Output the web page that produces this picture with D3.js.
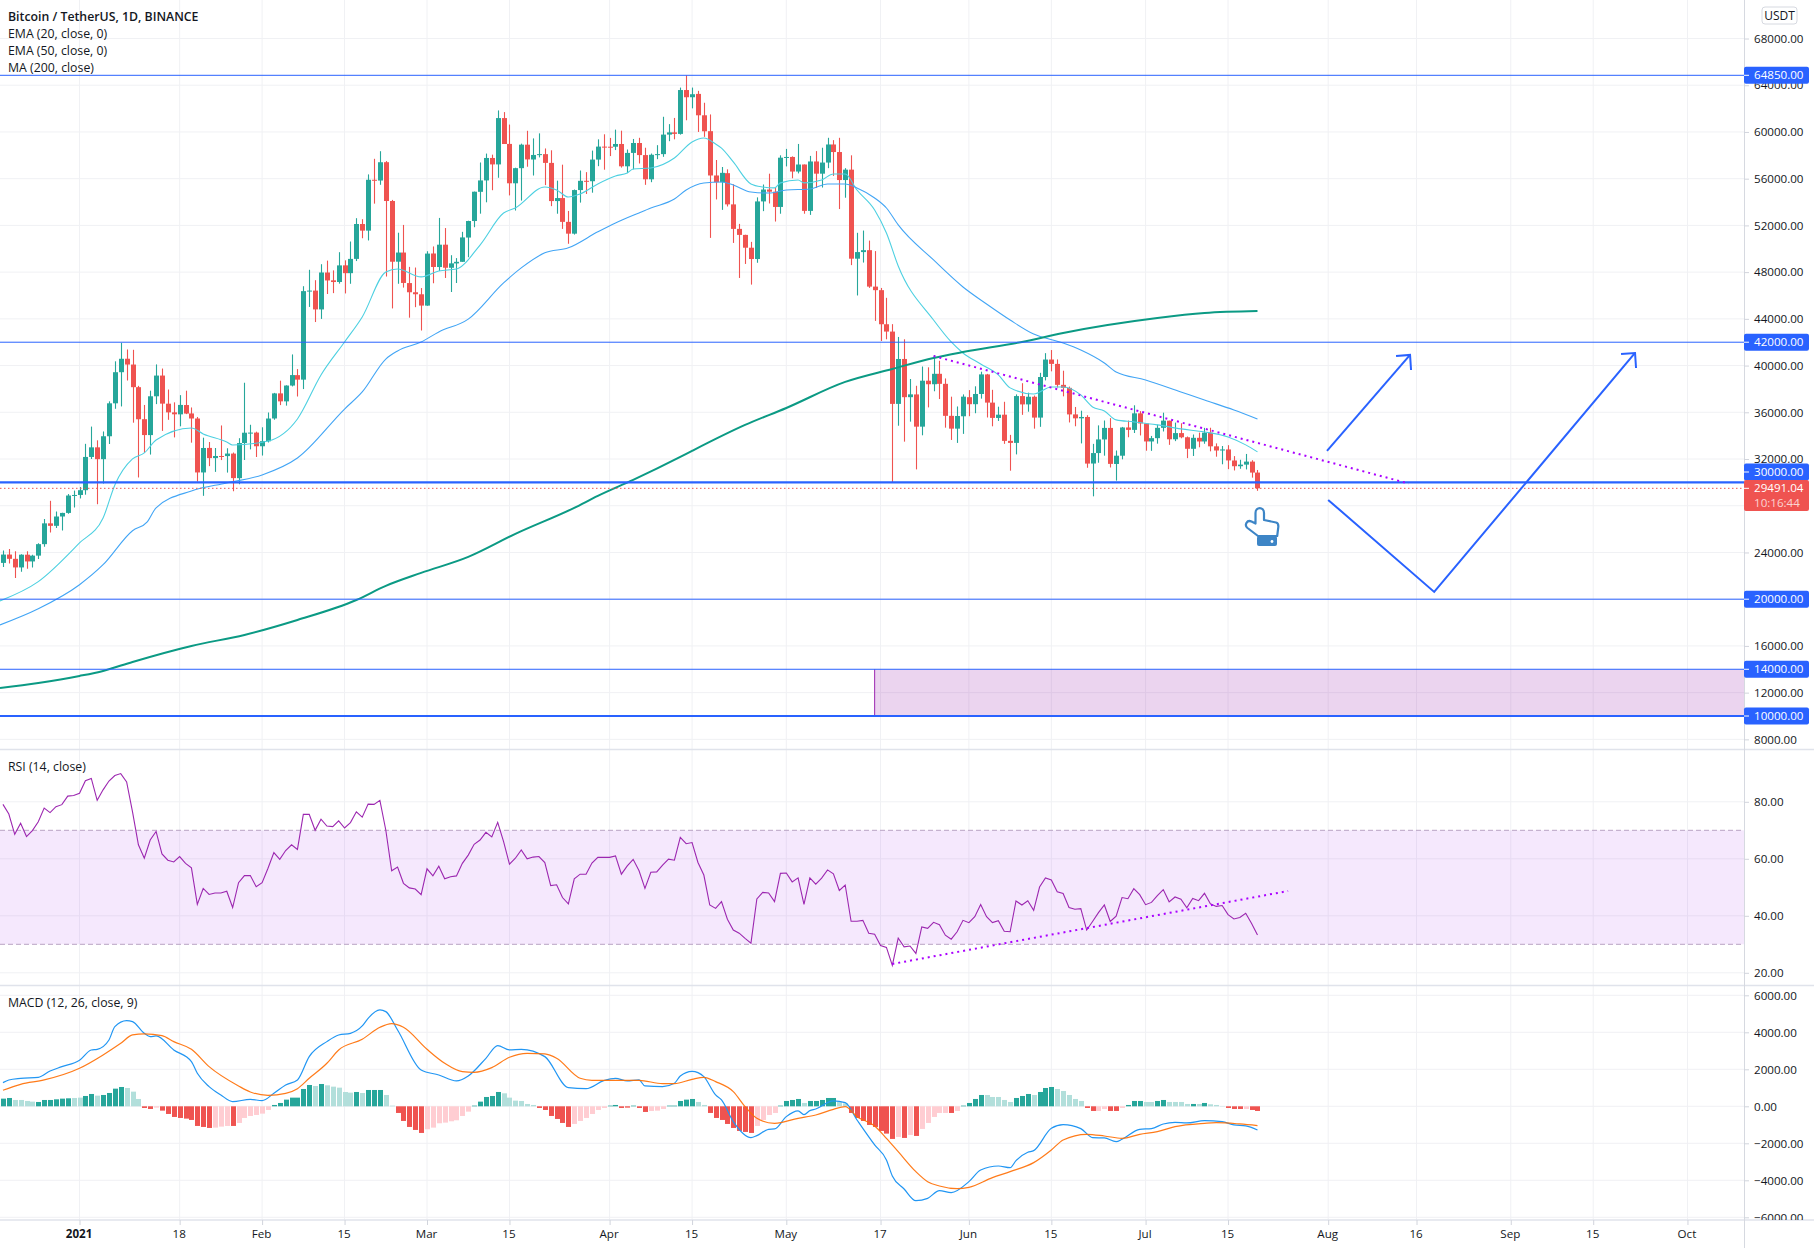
<!DOCTYPE html>
<html>
<head>
<meta charset="utf-8">
<script src="https://cdn.jsdelivr.net/npm/d3@7"></script>
<style>
  html, body { margin: 0; padding: 0; background: #fff; }
  svg { display: block; }
  text { font-family: "Open Sans", sans-serif; font-size: 11.6px; fill: #131722; }
  .axis path { display: none; }
  .axis line { stroke: #d1d4dc; }
</style>
</head>
<body>
<svg width="1814" height="1248"></svg>
<script>
// first candle is 19 Dec 2020, day numbers count from 1 Jan 2021
const firstDay = -13;

const opens = [
  23107,23821,23455,22719,23810,23232,23729,24712,26493,26281,27079,27385,28875,
  28923,29331,32176,33000,31989,33949,36769,39432,40586,40088,38150,35410,34049,37371,39145,36737,35994,35824,36622,35901,35468,30851,32950,32078,32259,32251,32464,30362,33368,34246,34262,
  33092,33517,35472,37620,36936,38289,39181,38795,46374,46420,44807,47968,47298,47156,48580,47911,49133,52118,51552,55906,55841,57412,54088,48892,49677,47063,46276,46103,
  45134,49595,48436,50349,48374,48746,48882,50959,52376,54874,55851,57773,57221,61188,58976,55605,56900,58912,57641,58030,58100,57351,54083,54340,52303,51293,55025,55817,55781,57635,58745,
  58736,58735,58970,57059,58206,59054,58020,55947,58048,58102,59774,59964,59834,63588,62971,63258,61427,60067,56274,55696,56471,53800,51702,51187,50089,49121,54053,55071,54884,53580,
  57798,57859,56610,57214,53241,57473,56428,57380,58928,58280,55883,56773,49150,49716,49880,46760,46456,43538,42910,36720,40566,37294,37531,34771,38705,38402,39295,38437,35697,34600,35658,
  37293,36694,37568,39242,36829,35516,35796,33556,33380,37388,36677,37331,35546,39021,40516,40143,38349,38092,35820,35483,35600,31614,32510,33675,34663,31576,32283,34702,34494,35911,
  35045,33503,33786,34669,35284,33690,34220,33862,32875,33815,33502,34259,33086,32729,32820,31874,31383,31520,31778,30839
];
const highs = [
  24171,24295,24102,23837,24100,23794,24789,26867,28422,27500,27410,29000,29300,
  29600,33300,34778,33600,34360,36939,40365,41950,41380,41350,38264,36628,37850,40100,39747,37950,36852,37469,37850,36415,35600,33826,33456,32944,34875,32921,32557,33783,38531,34933,34342,
  34717,35984,37662,38708,38310,40955,39700,46794,48200,47310,48678,48985,48150,49707,49010,50622,52618,52530,56368,57700,58352,57508,54183,51374,52041,48450,48394,46638,
  49790,50200,52640,51773,49448,49200,51450,52402,54895,57387,58150,58058,61844,61700,60633,56938,58999,60100,59450,59880,58589,58430,55830,57200,53238,55073,56700,56559,58405,59368,59800,
  59490,60200,60110,58500,59400,59500,58650,58153,58869,61300,60670,61200,63800,64854,63800,63520,62500,61500,57600,57000,56800,55521,52130,51200,50591,54400,55500,56428,55200,58000,
  58550,57911,58973,57214,57950,58360,58650,59500,59300,59500,56900,58000,51367,51560,50700,49800,46646,45800,43546,42451,42250,38850,38270,39920,39850,40900,40411,38900,37338,36500,37534,
  37900,38225,39476,39289,37925,36480,36900,34067,37534,38491,37680,37436,39380,41064,41330,40527,39560,38202,36457,36137,35750,33298,34881,35298,35500,32730,34749,35297,36600,36100,
  35057,33977,34945,35967,35284,35118,35059,33929,34100,34262,34666,34678,33340,33114,33185,32249,31935,32435,31899,31063
];
const lows = [
  22750,23060,21815,22353,22600,22703,23433,24500,25700,26101,25880,27320,27850,
  28624,28946,32000,28130,29900,33288,36300,36500,38720,35111,30420,32531,32380,36701,34408,35357,33850,34800,35844,33400,30071,28850,31390,30900,31910,30837,29241,29842,31915,32825,32171,
  32296,33418,35362,36616,36570,38215,37351,37988,45020,43727,43994,46125,46202,47014,46174,47003,48947,50901,50710,53863,55477,47622,44892,47003,46674,44100,45000,43000,
  45115,47047,48100,47500,46300,47070,48882,49274,51845,53005,53977,55012,56078,59020,54568,53271,54123,57023,56270,57820,55450,53650,53000,51700,50427,51214,53950,54691,54800,57071,56769,
  57935,58450,56950,56478,56800,57300,55473,55700,57670,57870,59210,59369,59770,61000,62020,60000,59580,50931,54221,53329,53620,50500,47500,48700,46930,48800,53222,53876,52330,53000,
  57050,56035,56452,53000,52900,55200,55241,56900,56235,53400,54370,48600,46000,48817,46650,43825,42101,42250,30000,34850,33488,35200,31111,34031,36419,37800,37134,34684,33633,33379,34153,
  35666,35920,37170,35555,34800,35258,33300,31000,32396,35782,36050,34600,34757,38730,39506,38116,37365,35129,34803,33336,31251,28805,31683,32286,31275,30151,31973,33862,34226,34017,
  32711,32699,33316,34357,33213,33532,33777,32077,32261,33004,33306,32658,32200,31550,31133,31020,31164,31108,30407,29278
];
const closes = [
  23821,23455,22719,23811,23232,23729,24712,26493,26281,27079,27385,28875,28923,
  29331,32178,33000,31988,33949,36769,39432,40582,40088,38150,35404,34051,37371,39144,36742,35994,35828,36631,35891,35468,30850,32945,32078,32259,32254,32467,30366,33364,34252,34262,33092,
  33526,35466,37618,36936,38290,39186,38795,46374,46420,44807,47969,47287,47153,48577,47911,49133,52119,51552,55906,55841,57408,54088,48891,49676,47073,46276,46106,45135,
  49587,48440,50349,48374,48751,48882,50971,52375,54884,55851,57773,57221,61188,58968,55605,56900,58912,57648,58030,58102,57351,54083,54340,52303,51293,55025,55817,55777,57635,58746,58740,
  58720,58970,57059,58206,59054,58020,55947,58048,58102,59774,59964,59834,63588,62971,63229,61427,60058,56274,55696,56499,53801,51701,51187,50089,49121,54053,55071,54884,53580,57798,
  57859,56610,57213,53241,57473,56428,57380,58928,58280,55883,56773,49150,49716,49880,46760,46456,43538,42910,36720,40565,37294,37536,34770,38705,38402,39295,38436,35697,34600,35684,37340,
  36693,37568,39246,36829,35520,35796,33552,33380,37389,36675,37331,35546,39020,40516,40144,38349,38092,35819,35483,35600,31608,32509,33678,34663,31584,32283,34700,34494,35911,35045,
  33504,33786,34669,35286,33690,34220,33862,32875,33815,33502,34258,33086,32729,32820,31880,31383,31520,31778,30839,29491
];

const ema20 = [[-13.5,19850],[-7,21500],[0,24815],[4,26955],[6,29780],[9,32005],[11,32520],[13,33630],[19,34660],[21,34150],[25,33460],[26,33200],[32,33540],[37,35430],[41,39195],[45,42020],[48,44160],[52,48010],[54,48270],[58,47590],[61,48100],[64,48270],[68,50320],[72,53060],[74,53490],[79,55290],[81,55030],[83,54430],[85,54690],[88,55550],[91,56230],[93,56490],[94,56830],[97,56920],[101,57770],[104,59140],[106,59480],[108,58970],[109,58620],[111,57430],[114,55550],[116,55290],[118,55210],[119,55640],[122,55890],[123,55640],[126,55890],[128,56400],[130,56400],[132,55030],[135,53320],[137,51350],[139,48530],[145,43900],[148,42020],[150,41080],[153,40140],[156,39200],[158,38090],[162,37570],[165,38170],[167,38170],[170,37490],[172,36460],[174,36120],[176,35350],[179,35180],[183,34920],[187,34580],[191,34320],[195,33890],[198,33210],[200,32610]];
const ema50 = [[-13.5,17800],[-7,19180],[0,21240],[4,22950],[9,25860],[11.5,26620],[13,27820],[19,29265],[25,29950],[31,30640],[37,32090],[45,36280],[48,37740],[52,40560],[54,41250],[58,42020],[61,42880],[66,43980],[72,47080],[75,48360],[79,49650],[83,50080],[88,51450],[91,52210],[95,53070],[97,53490],[101,54260],[103,55030],[106,55630],[109,55720],[111,55460],[114,54860],[117,54770],[120,55030],[124,55120],[127,55550],[130,55550],[132,55210],[135,54350],[137,53490],[139,52040],[145,49040],[150,46730],[154,45270],[158,43900],[162,42700],[167,41930],[170,41330],[174,40220],[176,39450],[181,38770],[187,37740],[191,37050],[196,36200],[200,35430]];
const ma200 = [[-13.5,12400],[-7,12830],[0,13430],[4,13860],[9,14630],[19,16000],[28,16940],[37,18220],[47,19930],[52,21140],[58,22250],[66,23620],[74,25590],[84,27820],[88,28840],[94,30210],[102,32180],[104,32700],[113,34920],[120,36370],[130,38600],[138,39710],[145,40650],[150,41160],[160,42020],[167,42790],[183,44070],[191,44500],[200,44670]];

const rsiValues = [
  79.1,75.7,68.6,72.5,67.8,69.9,73,77.8,76.2,78.3,79,82,82.2,
  83,87.4,88.2,80.5,84.2,87.3,89.2,89.9,87,76.5,64.9,60.2,66.6,69.6,61.7,59.5,58.9,60.8,58.4,56.8,44,49.6,47.5,48,48,48.6,42.9,51.6,54.1,54.1,50.2,51.6,
  56.7,62.2,59.8,62.9,64.9,63.3,75.6,75.6,70,73.9,71.5,71.3,73.3,70.8,72.7,76.5,74.6,79.2,79.1,80.5,70.1,55.8,57.1,51.4,49.8,49.4,47.4,56.5,54,57.4,53,53.7,54,58.4,61.3,65.1,66.6,69.3,67.7,72.8,66,58.1,60.2,63.1,60,60.6,60.8,58.7,50.6,50.9,46.4,44.2,53,54.6,54.6,58.5,60.5,60.5,60.5,61,54.6,57.5,59.8,55.8,49.6,55.3,55.4,57.8,
  59.9,59.5,67.5,65.3,65.7,58.7,54.3,43.8,42.6,45,38.8,35,33.9,32.1,30.4,45.9,48.2,48,45,54.9,55,51.9,53.3,44,53.3,51.1,53.2,56.1,54.7,48.9,50.8,
  38.1,38.1,38.4,33.9,33.5,29.6,28.9,22.6,32.2,29.1,29.4,26.8,36.1,35.6,37.7,36.9,33.2,31.8,34.4,38.4,37.6,39.7,44,39.7,37.6,38.3,34.6,34.4,45.2,43.8,45.3,41.9,50.1,53.3,52.6,48.4,47.8,42.9,42.3,42.5,35,38,41.1,43.8,38,39.9,46.4,46,49.5,47.4,
  43.9,44.7,47.1,49.2,44.9,46.6,45.8,42.8,46.1,45.3,47.9,44.2,43.3,43.6,40.4,38.9,39.4,40.9,37.3,33.3
];

const macdLine = [[-13,1280],[-12,1424],[-10,1514],[-7,1568],[-5,1910],[-3,2144],[0,2487],[2,3045],[3,3081],[5,3586],[6,4307],[8,4631],[9,4577],[11,3946],[12,3766],[13,3802],[16,3045],[19,2415],[20,1784],[22,1063],[24,613],[26,252],[29,378],[31,306],[33,703],[35,1153],[37,1424],[39,2685],[42,3496],[44,3856],[46,3946],[48,4343],[49,4757],[51,5208],[52,5118],[54,4127],[58,1964],[61,1694],[64,1370],[66,1640],[69,2595],[71,3280],[73,3045],[75,3081],[79,2685],[83,1009],[86,955],[89,1388],[91,1514],[93,1370],[95,1424],[96,1099],[99,1063],[101,1243],[102,1640],[104,1892],[105,1820],[106,1604],[108,613],[109,342],[111,-829],[114,-1694],[115,-1586],[117,-1243],[118,-1225],[120,-559],[122,-252],[123,-451],[124,-234],[125,-144],[128,288],[130,198],[132,-739],[135,-2090],[137,-2901],[138,-3766],[140,-4469],[142,-5100],[144,-4974],[146,-4559],[148,-4667],[151,-4073],[153,-3442],[156,-3226],[158,-3316],[159,-2937],[161,-2487],[162,-2397],[165,-1189],[167,-991],[170,-1207],[172,-1694],[174,-1712],[176,-1910],[177,-1784],[180,-1243],[182,-1207],[184,-955],[186,-865],[188,-901],[191,-775],[194,-829],[196,-1009],[198,-1063],[200,-1279]];
const signalLine = [[-13,865],[-10,1189],[-6,1424],[0,2054],[4,2775],[7,3406],[9,3856],[11,3910],[14,3820],[16,3496],[19,3081],[22,2144],[27,1099],[29,775],[32,595],[35,703],[37,955],[39,1514],[42,2325],[44,3045],[48,3622],[51,4271],[53,4469],[55,4271],[59,3081],[62,2325],[65,1874],[67,1838],[70,2090],[73,2649],[76,2865],[79,2829],[81,2595],[85,1514],[87,1406],[91,1406],[95,1406],[99,1225],[101,1225],[104,1460],[106,1568],[108,1333],[111,793],[113,-18],[115,-649],[118,-919],[122,-649],[125,-469],[128,-162],[130,-18],[132,-559],[135,-1063],[137,-1730],[139,-2451],[142,-3532],[144,-4073],[146,-4307],[149,-4451],[151,-4379],[155,-3856],[158,-3532],[162,-3045],[165,-2361],[167,-1820],[171,-1514],[174,-1604],[177,-1730],[180,-1514],[183,-1370],[186,-1099],[191,-919],[193,-883],[197,-955],[200,-1045]];
const histValues = [
  414,450,342,342,288,252,234,342,342,378,414,432,450,468,558,666,576,612,720,954,1044,990,792,396,
  -90,-144,-72,-234,-414,-576,-630,-666,-738,-1062,-1116,-1170,-1152,-1098,-1062,-1062,-900,-630,-522,-468,-396,-198,
  72,180,360,468,468,936,1152,1098,1206,1134,1062,1008,774,738,774,720,882,882,882,612,36,
  -360,-792,-1116,-1278,-1440,-1242,-1152,-918,-882,-810,-756,-522,-288,
  36,252,504,558,774,702,468,306,288,126,72,
  -90,-198,-522,-684,-900,-1116,-954,-792,-630,-414,-198,-90,
  36,72,-90,-72,36,-90,-306,-252,-234,-144,36,36,288,360,396,234,72,
  -360,-630,-738,-954,-1170,-1332,-1386,-1440,-1062,-738,-468,-360,
  36,288,342,396,180,288,288,342,450,450,234,162,
  -360,-630,-792,-1008,-1116,-1332,-1476,-1764,-1656,-1710,-1548,-1602,-1224,-900,-576,-360,-360,-360,-252,
  36,180,396,612,612,504,504,342,234,450,558,666,612,774,990,1044,936,828,612,396,288,
  -90,-252,-252,-144,-252,-252,-90,
  72,288,288,234,234,288,342,234,234,234,126,126,126,180,108,72,18,
  -90,-144,-144,-144,-198,-252
];
// days whose histogram bar is drawn in the faded tone
const histFadedDays = [-11,-10,-9,-8,-1,0,3,8,9,10,13,23,24,25,27,28,29,30,31,32,40,42,43,44,45,46,48,52,53,59,60,61,62,63,64,65,66,72,73,74,75,76,77,84,85,86,87,88,89,97,98,99,105,106,115,116,117,118,123,129,130,139,141,143,144,145,146,147,149,154,155,156,157,158,162,166,167,168,169,170,173,174,177,181,182,185,186,187,188,190,192,193,194,198];

const priceTicks = d3.range(8000, 68001, 4000);
const rsiTicks = [20, 40, 60, 80];
const macdTicks = [-6000, -4000, -2000, 0, 2000, 4000, 6000];
const timeTickDays = [0, 17, 31, 45, 59, 73, 90, 104, 120, 136, 151, 165, 181, 195, 212, 227, 243, 257, 273];
const timeTickLabels = ["2021", "18", "Feb", "15", "Mar", "15", "Apr", "15", "May", "17", "Jun", "15", "Jul", "15", "Aug", "16", "Sep", "15", "Oct"];

const levelPrices = [64850, 42000, 30000, 20000, 14000, 10000];
const levelWidths = [1, 1, 2.4, 1, 1, 2];
const lastPrice = 29491.04;
const countdown = "10:16:44";
const legendLines = ["Bitcoin / TetherUS, 1D, BINANCE", "EMA (20, close, 0)", "EMA (50, close, 0)", "MA (200, close)"];

// drawings on the chart, [day, price]
const priceTrend = [[145, 40820], [225.7, 29900]];
const rsiTrend = [[138, 23.1], [205.2, 48.7]];
const arrowUp = [[211.8, 32690], [225.9, 40910]];
const arrowSwing = [[212, 28500], [230, 20620], [264.1, 41080]];
const boxStartDay = 135;

const axisX = 1744;
const paneMainBottom = 749.5, paneRsiBottom = 985.5, paneMacdBottom = 1220;

const x = d3.scaleLinear().domain([-13.5, 282.6]).range([0, axisX]);
const yPrice = d3.scaleLinear().domain([64850, 10000]).range([75.3, 716]);
const yRsi = d3.scaleLinear().domain([70, 30]).range([830.3, 944.3]);
const yMacd = d3.scaleLinear().domain([6000, -6000]).range([995.3, 1217.3]);

const dayOf = i => firstDay + i;
const blue = "#2962ff", up = "#26a69a", down = "#ef5350", gridColor = "#f0f1f4";

let svg = d3.select("svg");
let defs = svg.append("defs");
[["clipMain", 0, paneMainBottom], ["clipRsi", paneMainBottom, paneRsiBottom], ["clipMacd", paneRsiBottom, paneMacdBottom]].forEach(function (c) {
    defs.append("clipPath").attr("id", c[0]).append("rect")
        .attr("x", 0).attr("y", c[1]).attr("width", 1814).attr("height", c[2] - c[1]);
});

// vertical grid goes through all the panes
svg.append("g").selectAll("line").data(timeTickDays).enter().append("line")
    .attr("x1", d => x(d)).attr("x2", d => x(d))
    .attr("y1", 0).attr("y2", paneMacdBottom)
    .attr("stroke", gridColor);

function hGrid(values, scale, clip) {
    svg.append("g").attr("clip-path", "url(#" + clip + ")")
        .selectAll("line").data(values).enter().append("line")
        .attr("x1", 0).attr("x2", axisX)
        .attr("y1", d => scale(d)).attr("y2", d => scale(d))
        .attr("stroke", gridColor);
}
hGrid(priceTicks, yPrice, "clipMain");
hGrid(rsiTicks, yRsi, "clipRsi");
hGrid(macdTicks, yMacd, "clipMacd");

// ---- main pane ----
let main = svg.append("g").attr("clip-path", "url(#clipMain)");

main.append("rect")
    .attr("x", x(boxStartDay)).attr("y", yPrice(14000))
    .attr("width", axisX - x(boxStartDay)).attr("height", yPrice(10000) - yPrice(14000))
    .attr("fill", "#9c27b0").attr("fill-opacity", 0.2);
main.append("line")
    .attr("x1", x(boxStartDay)).attr("x2", x(boxStartDay))
    .attr("y1", yPrice(14000)).attr("y2", yPrice(10000))
    .attr("stroke", "#9c27b0").attr("stroke-width", 1);

let candles = main.append("g").selectAll("g").data(opens).enter().append("g")
    .attr("fill", (d, i) => closes[i] >= d ? up : down)
    .attr("stroke", (d, i) => closes[i] >= d ? up : down);
candles.append("line")
    .attr("x1", (d, i) => Math.round(x(dayOf(i))) + 0.5).attr("x2", (d, i) => Math.round(x(dayOf(i))) + 0.5)
    .attr("y1", (d, i) => yPrice(highs[i])).attr("y2", (d, i) => yPrice(lows[i]))
    .attr("stroke-width", 1.1);
candles.append("rect")
    .attr("x", (d, i) => Math.round(x(dayOf(i))) - 2)
    .attr("width", 5)
    .attr("y", (d, i) => yPrice(Math.max(d, closes[i])))
    .attr("height", (d, i) => Math.max(1, Math.abs(yPrice(d) - yPrice(closes[i]))))
    .attr("stroke", "none");

const priceLine = d3.line().x(d => x(d[0])).y(d => yPrice(d[1]));
const smoothLine = d3.line().x(d => x(d[0])).y(d => yPrice(d[1])).curve(d3.curveMonotoneX);
main.append("path").attr("d", smoothLine(ema20)).attr("fill", "none").attr("stroke", "#4dd0e1").attr("stroke-width", 1.1);
main.append("path").attr("d", smoothLine(ema50)).attr("fill", "none").attr("stroke", "#42a5f5").attr("stroke-width", 1.1);
main.append("path").attr("d", smoothLine(ma200)).attr("fill", "none").attr("stroke", "#0b9a84").attr("stroke-width", 2);

main.selectAll(".level").data(levelPrices).enter().append("line")
    .attr("class", "level")
    .attr("x1", 0).attr("x2", axisX)
    .attr("y1", d => yPrice(d)).attr("y2", d => yPrice(d))
    .attr("stroke", blue)
    .attr("stroke-width", (d, i) => levelWidths[i]);

main.append("line")
    .attr("x1", 0).attr("x2", axisX)
    .attr("y1", yPrice(lastPrice)).attr("y2", yPrice(lastPrice))
    .attr("stroke", down).attr("stroke-width", 1).attr("stroke-dasharray", "1.5,2.5");

main.append("path").attr("d", priceLine(priceTrend))
    .attr("fill", "none").attr("stroke", "#aa00ff").attr("stroke-width", 2).attr("stroke-dasharray", "2,4");

main.append("path").attr("d", priceLine(arrowUp)).attr("fill", "none").attr("stroke", blue).attr("stroke-width", 2);
main.append("path").attr("d", priceLine(arrowSwing)).attr("fill", "none").attr("stroke", blue).attr("stroke-width", 2);
[arrowUp[1], arrowSwing[2]].forEach(function (tip) {
    let tx = x(tip[0]), ty = yPrice(tip[1]);
    main.append("path")
        .attr("d", "M" + (tx - 14) + "," + (ty + 1) + "L" + tx + "," + ty + "L" + (tx + 1) + "," + (ty + 15))
        .attr("fill", "none").attr("stroke", blue).attr("stroke-width", 2);
});

// pointing hand sticker
let hand = main.append("g").attr("transform", "translate(1244,507)");
hand.append("path")
    .attr("d", "M11.5,6 C11.5,-0.5 20,-0.5 20,6 L20,13 L32,15.5 C34,16 34.5,18 34.3,20 L33.2,29 L14,29 L3.5,21 C0,18 3,12.5 7.5,14.5 L11.5,16.5 Z")
    .attr("fill", "#fff").attr("stroke", "#3d85c6").attr("stroke-width", 2.2).attr("stroke-linejoin", "round");
hand.append("rect").attr("x", 13).attr("y", 29).attr("width", 20).attr("height", 10).attr("rx", 2).attr("fill", "#3d85c6");
hand.append("circle").attr("cx", 28).attr("cy", 34.5).attr("r", 1.4).attr("fill", "#fff");

// ---- rsi pane ----
let rsi = svg.append("g").attr("clip-path", "url(#clipRsi)");
rsi.append("rect")
    .attr("x", 0).attr("y", yRsi(70)).attr("width", axisX).attr("height", yRsi(30) - yRsi(70))
    .attr("fill", "#9b1ced").attr("fill-opacity", 0.1);
rsi.selectAll(".band").data([70, 30]).enter().append("line")
    .attr("class", "band")
    .attr("x1", 0).attr("x2", axisX)
    .attr("y1", d => yRsi(d)).attr("y2", d => yRsi(d))
    .attr("stroke", "#b8a3c4").attr("stroke-dasharray", "5,3");
rsi.append("path")
    .attr("d", d3.line().x((d, i) => x(dayOf(i))).y(d => yRsi(d))(rsiValues))
    .attr("fill", "none").attr("stroke", "#9c27b0").attr("stroke-width", 1.1);
rsi.append("path")
    .attr("d", d3.line().x(d => x(d[0])).y(d => yRsi(d[1]))(rsiTrend))
    .attr("fill", "none").attr("stroke", "#aa00ff").attr("stroke-width", 2).attr("stroke-dasharray", "2,4");

// ---- macd pane ----
let macd = svg.append("g").attr("clip-path", "url(#clipMacd)");
macd.selectAll("rect").data(histValues).enter().append("rect")
    .attr("x", (d, i) => Math.round(x(dayOf(i))) - 2)
    .attr("width", 5)
    .attr("y", d => Math.min(yMacd(d), yMacd(0)))
    .attr("height", d => Math.abs(yMacd(d) - yMacd(0)))
    .attr("fill", function (d, i) {
        let faded = histFadedDays.includes(dayOf(i));
        if (d >= 0) return faded ? "#b2dfdb" : up;
        return faded ? "#ffcdd2" : down;
    });
const macdPath = d3.line().x(d => x(d[0])).y(d => yMacd(d[1])).curve(d3.curveMonotoneX);
macd.append("path").attr("d", macdPath(macdLine)).attr("fill", "none").attr("stroke", "#2196f3").attr("stroke-width", 1.2);
macd.append("path").attr("d", macdPath(signalLine)).attr("fill", "none").attr("stroke", "#ff6d00").attr("stroke-width", 1.2).attr("stroke-opacity", 0.9);

// ---- pane borders ----
[paneMainBottom, paneRsiBottom, paneMacdBottom].forEach(function (py) {
    svg.append("line").attr("x1", 0).attr("x2", 1814).attr("y1", py).attr("y2", py)
        .attr("stroke", "#e0e3eb").attr("stroke-width", 1.5);
});
svg.append("line").attr("x1", axisX + 0.5).attr("x2", axisX + 0.5).attr("y1", 0).attr("y2", 1248)
    .attr("stroke", "#d6d9e0").attr("stroke-width", 1);

// ---- axes ----
function rightAxis(scale, values, clip) {
    let g = svg.append("g").attr("class", "axis")
        .attr("transform", "translate(" + axisX + ",0)")
        .attr("clip-path", clip ? "url(#" + clip + ")" : null)
        .call(d3.axisRight(scale).tickValues(values).tickSize(5).tickPadding(5).tickFormat(d3.format(".2f")));
    return g;
}
rightAxis(yPrice, priceTicks);
rightAxis(yRsi, rsiTicks);
rightAxis(yMacd, macdTicks, "clipMacd");

let timeAxis = svg.append("g").attr("class", "axis")
    .attr("transform", "translate(0," + paneMacdBottom + ")")
    .call(d3.axisBottom(x).tickValues(timeTickDays).tickSize(5).tickPadding(5)
        .tickFormat((d, i) => timeTickLabels[i]));
timeAxis.selectAll("text")
    .attr("dx", -1)
    .style("font-weight", (d, i) => timeTickLabels[i] === "2021" ? "700" : "400");

// ---- price badges ----
function badge(centerY, height, color, label) {
    let g = svg.append("g");
    g.append("rect").attr("x", axisX).attr("y", centerY - height / 2)
        .attr("width", 65).attr("height", height).attr("rx", 2).attr("fill", color);
    g.append("line").attr("x1", axisX).attr("x2", axisX + 5).attr("y1", centerY).attr("y2", centerY)
        .attr("stroke", "#fff");
    g.append("text").attr("x", axisX + 10).attr("y", centerY).attr("dy", "0.34em")
        .style("fill", "#fff").text(label);
}
levelPrices.forEach(function (p) {
    // the 30000 label is pushed up by the last price label under it
    badge(p === 30000 ? 472 : yPrice(p), 17, blue, d3.format(".2f")(p));
});
svg.append("rect").attr("x", axisX).attr("y", 480).attr("width", 65).attr("height", 31).attr("rx", 2).attr("fill", down);
svg.append("line").attr("x1", axisX).attr("x2", axisX + 5).attr("y1", yPrice(lastPrice)).attr("y2", yPrice(lastPrice)).attr("stroke", "#fff");
svg.append("text").attr("x", axisX + 10).attr("y", yPrice(lastPrice)).attr("dy", "0.34em").style("fill", "#fff").text(d3.format(".2f")(lastPrice));
svg.append("text").attr("x", axisX + 10).attr("y", 503).attr("dy", "0.34em").style("fill", "#fff").style("fill-opacity", 0.75).text(countdown);

// currency box
svg.append("rect").attr("x", 1762).attr("y", 7).attr("width", 35).attr("height", 17).attr("rx", 3)
    .attr("fill", "#fff").attr("stroke", "#d6d9e0");
svg.append("text").attr("x", 1779.5).attr("y", 15.5).attr("dy", "0.34em").attr("text-anchor", "middle").style("font-size", "12px").text("USDT");

// ---- legends ----
svg.append("g").selectAll("text").data(legendLines).enter().append("text")
    .attr("x", 8).attr("y", (d, i) => 16.5 + i * 17).attr("dy", "0.34em")
    .style("font-size", "12.3px")
    .style("font-weight", (d, i) => i === 0 ? "600" : "400")
    .text(d => d);
svg.append("text").attr("x", 8).attr("y", 766.5).attr("dy", "0.34em").style("font-size", "12.3px").text("RSI (14, close)");
svg.append("text").attr("x", 8).attr("y", 1003).attr("dy", "0.34em").style("font-size", "12.3px").text("MACD (12, 26, close, 9)");
</script>
</body>
</html>
